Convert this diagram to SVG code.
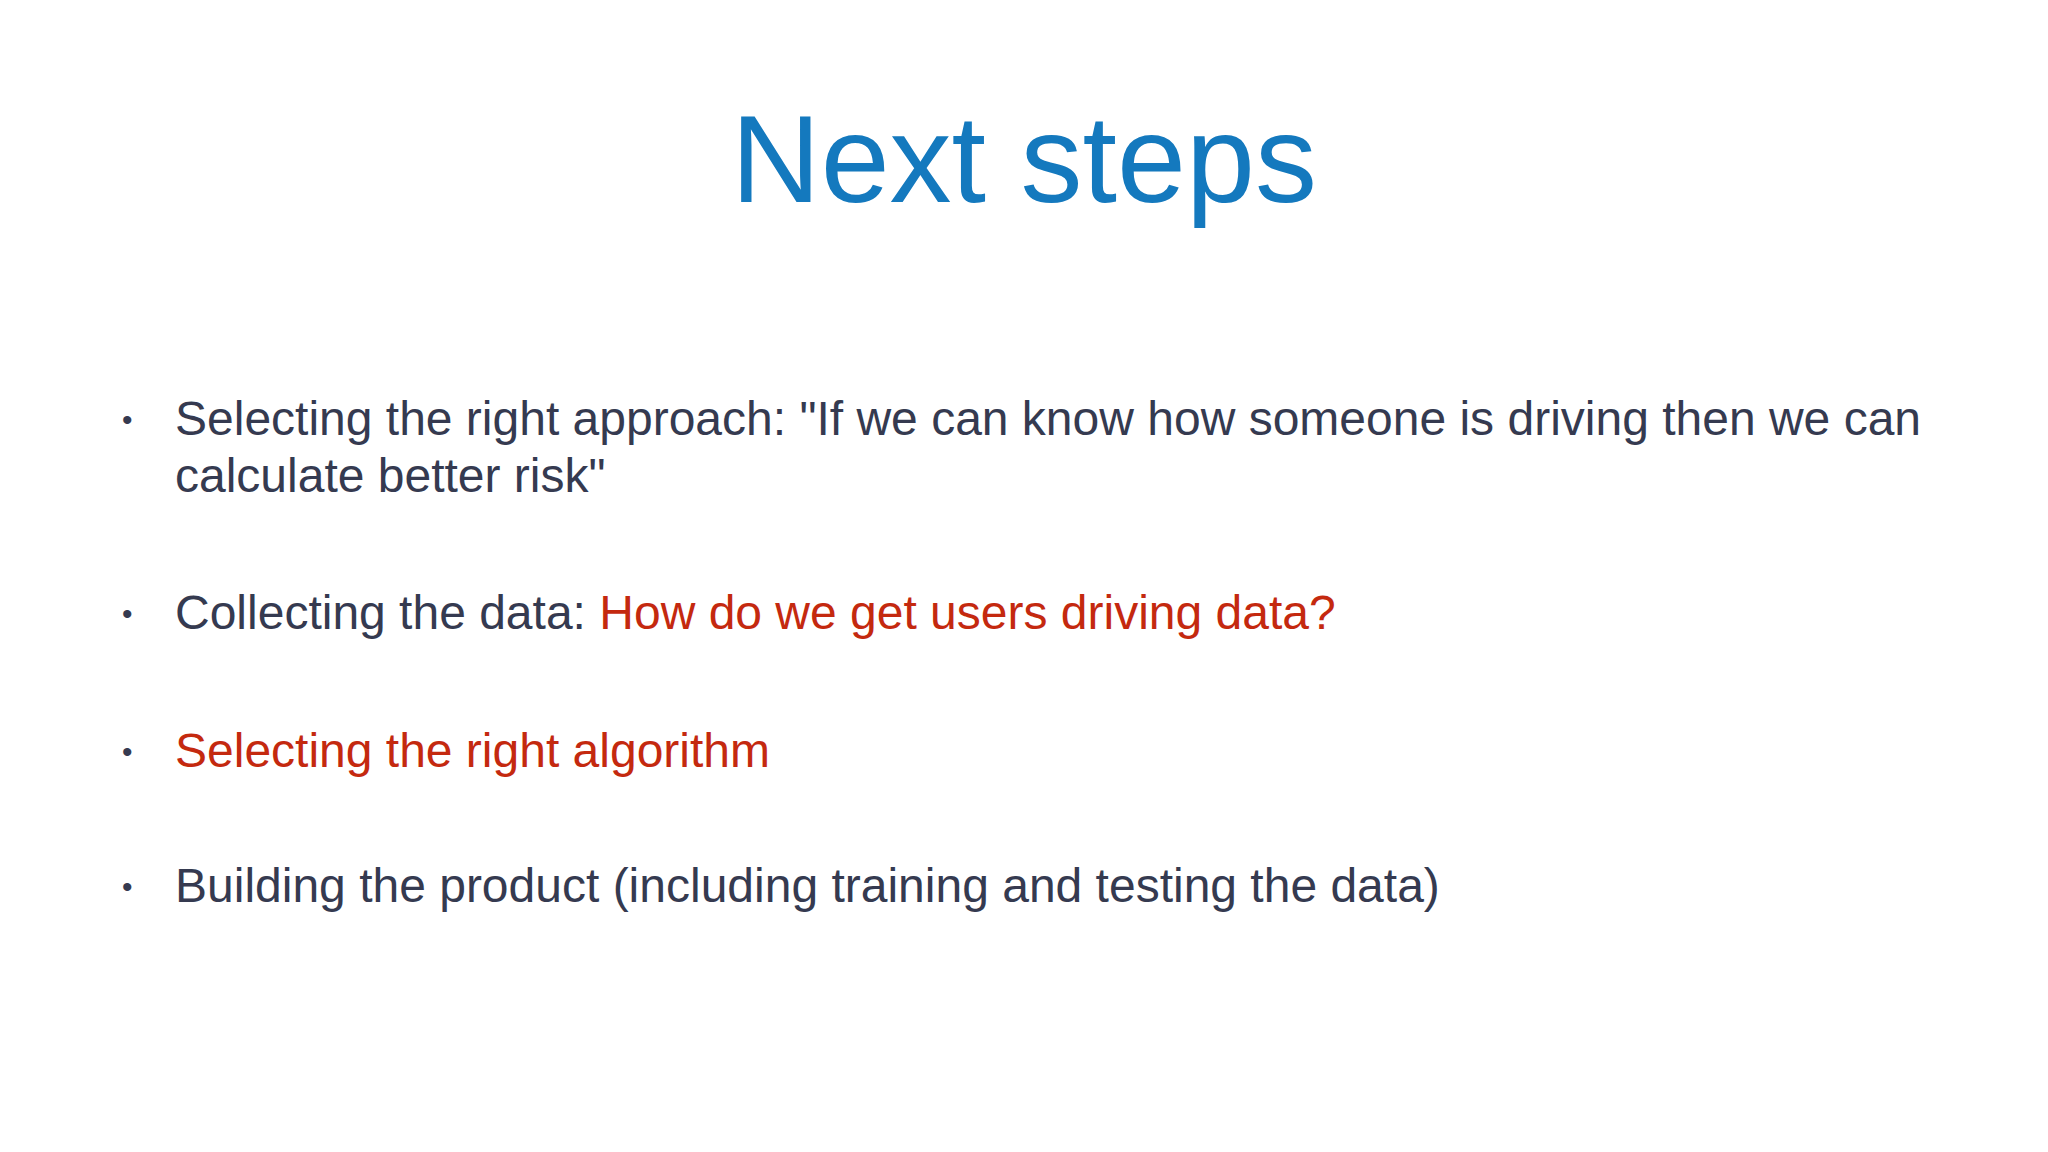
<svg xmlns="http://www.w3.org/2000/svg" width="2048" height="1152" viewBox="0 0 2048 1152">
<style>
.t{font-family:"Liberation Sans",Arial,sans-serif;font-size:48px;fill:#353a50}
.r{fill:#c4290f}
.b{font-family:"Liberation Sans",Arial,sans-serif;font-size:30px;fill:#353a50}
</style>
<rect width="2048" height="1152" fill="#ffffff"/>
<g id="title"><text x="1024" y="202" text-anchor="middle" font-family="Liberation Sans,Arial,sans-serif" font-size="124" fill="#1479be">Next steps</text></g>
<g id="bullet1"><text class="b" x="122" y="430">•</text>
<text class="t" x="175" y="435">Selecting the right approach: "If we can know how someone is driving then we can</text>
<text class="t" x="175" y="492">calculate better risk"</text></g>
<g id="bullet2"><text class="b" x="122" y="624">•</text>
<text class="t" x="175" y="629">Collecting the data: <tspan class="r">How do we get users driving data?</tspan></text></g>
<g id="bullet3"><text class="b r" x="122" y="762">•</text>
<text class="t r" x="175" y="767">Selecting the right algorithm</text></g>
<g id="bullet4"><text class="b" x="122" y="897">•</text>
<text class="t" x="175" y="902">Building the product (including training and testing the data)</text></g>
</svg>
